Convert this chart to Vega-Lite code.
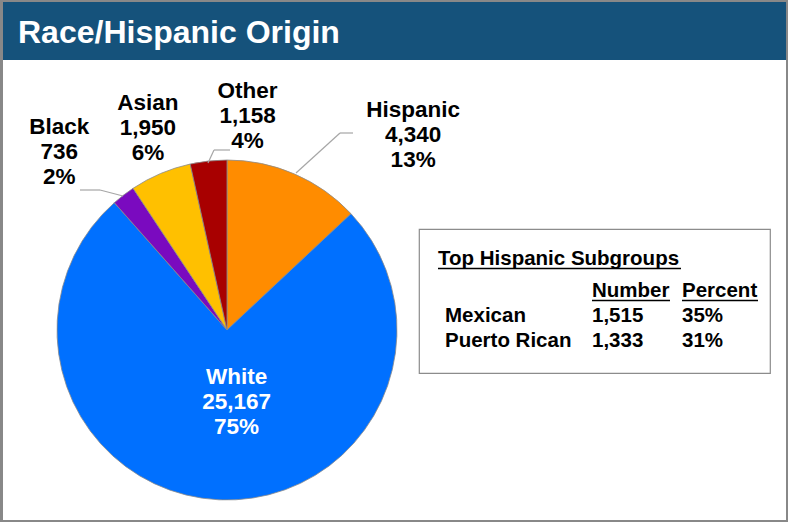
{
  "$schema": "https://vega.github.io/schema/vega-lite/v6.json",
  "padding": 0,
  "background": "white",
  "spacing": 0,
  "bounds": "flush",
  "config": {"view": {"stroke": null}, "font": "Liberation Sans", "concat": {"spacing": 0}},
  "hconcat": [
    {"width": 3, "height": 522, "data": {"values": []}, "mark": {"type": "point", "opacity": 0}, "view": {"fill": "#888888", "stroke": null}},
    {
      "spacing": 0,
      "bounds": "flush",
      "vconcat": [
        {"width": 783, "height": 2, "data": {"values": []}, "mark": {"type": "point", "opacity": 0}, "view": {"fill": "#888888", "stroke": null}},
        {
          "width": 783,
          "height": 58,
          "view": {"fill": "#15527B", "stroke": null},
          "data": {"values": [{"heading": "Race/Hispanic Origin"}]},
          "mark": {"type": "text", "x": 15, "y": 41, "align": "left", "baseline": "alphabetic", "color": "white", "fontSize": 32, "fontWeight": "bold", "font": "Liberation Sans"},
          "encoding": {"text": {"field": "heading", "type": "nominal"}}
        },
        {
          "spacing": 0,
          "bounds": "flush",
          "hconcat": [
            {"width": 32, "height": 460, "data": {"values": []}, "mark": {"type": "point", "opacity": 0}},
            {
              "spacing": 0,
              "bounds": "flush",
              "vconcat": [
                {"width": 384, "height": 80, "data": {"values": []}, "mark": {"type": "point", "opacity": 0}},
                {
                  "width": 384,
                  "height": 380,
                  "data": {"values": [
                    {"group": "Hispanic", "count": 4340, "percent": 13, "rank": 1},
                    {"group": "White", "count": 25167, "percent": 75, "rank": 2},
                    {"group": "Black", "count": 736, "percent": 2, "rank": 3},
                    {"group": "Asian", "count": 1950, "percent": 6, "rank": 4},
                    {"group": "Other", "count": 1158, "percent": 4, "rank": 5}
                  ]},
                  "transform": [
                    {"stack": "count", "groupby": [], "sort": [{"field": "rank", "order": "ascending"}], "as": ["start", "end"]},
                    {"calculate": "(datum.start + datum.end) / 2", "as": "mid"},
                    {"calculate": "datum.group + '\\n' + format(datum.count, ',') + '\\n' + datum.percent + '%'", "as": "label"}
                  ],
                  "resolve": {"scale": {"theta": "shared"}},
                  "layer": [
                    {
                      "mark": {"type": "arc", "outerRadius": 170, "stroke": "#8a8a8a", "strokeWidth": 0.8},
                      "encoding": {
                        "theta": {"field": "start", "type": "quantitative", "stack": null, "scale": {"domain": [0, 33351], "nice": false, "zero": true}},
                        "theta2": {"field": "end"},
                        "color": {"field": "group", "type": "nominal", "legend": null,
                          "scale": {"domain": ["Hispanic", "White", "Black", "Asian", "Other"], "range": ["#FF8C00", "#0070FF", "#7A0ABF", "#FFC000", "#A80000"]}}
                      }
                    },
                    {
                      "data": {"values": [{}]},
                      "mark": {"type": "rule", "color": "#a6a6a6", "strokeWidth": 1.2},
                      "encoding": {"x": {"value": 45}, "y": {"value": 50}, "x2": {"value": 65}, "y2": {"value": 50}}
                    },
                    {
                      "data": {"values": [{}]},
                      "mark": {"type": "rule", "color": "#a6a6a6", "strokeWidth": 1.2},
                      "encoding": {"x": {"value": 65}, "y": {"value": 50}, "x2": {"value": 88}, "y2": {"value": 56}}
                    },
                    {
                      "data": {"values": [{}]},
                      "mark": {"type": "rule", "color": "#a6a6a6", "strokeWidth": 1.2},
                      "encoding": {"x": {"value": 179}, "y": {"value": 10}, "x2": {"value": 195}, "y2": {"value": 10}}
                    },
                    {
                      "data": {"values": [{}]},
                      "mark": {"type": "rule", "color": "#a6a6a6", "strokeWidth": 1.2},
                      "encoding": {"x": {"value": 179}, "y": {"value": 10}, "x2": {"value": 173}, "y2": {"value": 23}}
                    },
                    {
                      "data": {"values": [{}]},
                      "mark": {"type": "rule", "color": "#a6a6a6", "strokeWidth": 1.2},
                      "encoding": {"x": {"value": 305}, "y": {"value": -7}, "x2": {"value": 318}, "y2": {"value": -7}}
                    },
                    {
                      "data": {"values": [{}]},
                      "mark": {"type": "rule", "color": "#a6a6a6", "strokeWidth": 1.2},
                      "encoding": {"x": {"value": 305}, "y": {"value": -7}, "x2": {"value": 261}, "y2": {"value": 33}}
                    },
                    {
                      "transform": [{"filter": "datum.group == 'Hispanic'"}],
                      "mark": {"type": "text", "radius": 269.5, "dx": 79, "dy": 27, "fontSize": 22.5, "fontWeight": "bold", "lineBreak": "\n", "lineHeight": 25, "align": "center", "baseline": "middle", "color": "black"},
                      "encoding": {"theta": {"field": "mid", "type": "quantitative", "stack": null, "scale": {"domain": [0, 33351], "nice": false, "zero": true}}, "text": {"field": "label", "type": "nominal"}}
                    },
                    {
                      "transform": [{"filter": "datum.group == 'White'"}],
                      "mark": {"type": "text", "radius": 73.2, "dx": 13, "dy": -26, "fontSize": 22.5, "fontWeight": "bold", "lineBreak": "\n", "lineHeight": 25, "align": "center", "baseline": "middle", "color": "white"},
                      "encoding": {"theta": {"field": "mid", "type": "quantitative", "stack": null, "scale": {"domain": [0, 33351], "nice": false, "zero": true}}, "text": {"field": "label", "type": "nominal"}}
                    },
                    {
                      "transform": [{"filter": "datum.group == 'Black'"}],
                      "mark": {"type": "text", "radius": 244.4, "dx": -19, "dy": -9, "fontSize": 22.5, "fontWeight": "bold", "lineBreak": "\n", "lineHeight": 25, "align": "center", "baseline": "middle", "color": "black"},
                      "encoding": {"theta": {"field": "mid", "type": "quantitative", "stack": null, "scale": {"domain": [0, 33351], "nice": false, "zero": true}}, "text": {"field": "label", "type": "nominal"}}
                    },
                    {
                      "transform": [{"filter": "datum.group == 'Asian'"}],
                      "mark": {"type": "text", "radius": 217.4, "dx": 6, "dy": -27, "fontSize": 22.5, "fontWeight": "bold", "lineBreak": "\n", "lineHeight": 25, "align": "center", "baseline": "middle", "color": "black"},
                      "encoding": {"theta": {"field": "mid", "type": "quantitative", "stack": null, "scale": {"domain": [0, 33351], "nice": false, "zero": true}}, "text": {"field": "label", "type": "nominal"}}
                    },
                    {
                      "transform": [{"filter": "datum.group == 'Other'"}],
                      "mark": {"type": "text", "radius": 215.5, "dx": 44, "dy": -25, "fontSize": 22.5, "fontWeight": "bold", "lineBreak": "\n", "lineHeight": 25, "align": "center", "baseline": "middle", "color": "black"},
                      "encoding": {"theta": {"field": "mid", "type": "quantitative", "stack": null, "scale": {"domain": [0, 33351], "nice": false, "zero": true}}, "text": {"field": "label", "type": "nominal"}}
                    }
                  ]
                }
              ]
            },
            {"width": 384, "height": 460, "data": {"values": []}, "mark": {"type": "point", "opacity": 0}},
            {
              "spacing": 0,
              "bounds": "flush",
              "vconcat": [
                {"width": 351, "height": 169, "data": {"values": []}, "mark": {"type": "point", "opacity": 0}},
                {
                  "width": 351,
                  "height": 144,
                  "view": {"fill": "white", "stroke": "#8c8c8c", "strokeWidth": 1.2},
                  "data": {"values": [
                    {"subgroup": "Mexican", "number": 1515, "percent": 0.35},
                    {"subgroup": "Puerto Rican", "number": 1333, "percent": 0.31}
                  ]},
                  "layer": [
                    {
                      "mark": {"type": "text", "x": 26, "align": "left", "baseline": "alphabetic", "fontSize": 20.5, "fontWeight": "bold", "color": "black"},
                      "encoding": {
                        "y": {"field": "subgroup", "type": "nominal", "axis": null, "scale": {"type": "point", "domain": ["Mexican", "Puerto Rican"], "range": [93, 118], "padding": 0}},
                        "text": {"field": "subgroup", "type": "nominal"}
                      }
                    },
                    {
                      "mark": {"type": "text", "x": 173, "align": "left", "baseline": "alphabetic", "fontSize": 20.5, "fontWeight": "bold", "color": "black"},
                      "encoding": {
                        "y": {"field": "subgroup", "type": "nominal", "axis": null},
                        "text": {"field": "number", "type": "quantitative", "format": ","}
                      }
                    },
                    {
                      "mark": {"type": "text", "x": 263, "align": "left", "baseline": "alphabetic", "fontSize": 20.5, "fontWeight": "bold", "color": "black"},
                      "encoding": {
                        "y": {"field": "subgroup", "type": "nominal", "axis": null},
                        "text": {"field": "percent", "type": "quantitative", "format": ".0%"}
                      }
                    },
                    {
                      "data": {"values": [{"text": "Top Hispanic Subgroups"}]},
                      "mark": {"type": "text", "x": 19, "y": 36, "align": "left", "baseline": "alphabetic", "fontSize": 20.5, "fontWeight": "bold", "color": "black"},
                      "encoding": {"text": {"field": "text", "type": "nominal"}}
                    },
                    {
                      "data": {"values": [{"text": "Number"}]},
                      "mark": {"type": "text", "x": 173, "y": 68, "align": "left", "baseline": "alphabetic", "fontSize": 20.5, "fontWeight": "bold", "color": "black"},
                      "encoding": {"text": {"field": "text", "type": "nominal"}}
                    },
                    {
                      "data": {"values": [{"text": "Percent"}]},
                      "mark": {"type": "text", "x": 263, "y": 68, "align": "left", "baseline": "alphabetic", "fontSize": 20.5, "fontWeight": "bold", "color": "black"},
                      "encoding": {"text": {"field": "text", "type": "nominal"}}
                    },
                    {
                      "data": {"values": [{}]},
                      "mark": {"type": "rule", "color": "black", "strokeWidth": 1.6},
                      "encoding": {"x": {"value": 19}, "x2": {"value": 262}, "y": {"value": 39.5}, "y2": {"value": 39.5}}
                    },
                    {
                      "data": {"values": [{}]},
                      "mark": {"type": "rule", "color": "black", "strokeWidth": 1.6},
                      "encoding": {"x": {"value": 173}, "x2": {"value": 251}, "y": {"value": 71.5}, "y2": {"value": 71.5}}
                    },
                    {
                      "data": {"values": [{}]},
                      "mark": {"type": "rule", "color": "black", "strokeWidth": 1.6},
                      "encoding": {"x": {"value": 263}, "x2": {"value": 339}, "y": {"value": 71.5}, "y2": {"value": 71.5}}
                    }
                  ]
                }
              ]
            }
          ]
        },
        {"width": 783, "height": 460, "data": {"values": []}, "mark": {"type": "point", "opacity": 0}},
        {"width": 783, "height": 2, "data": {"values": []}, "mark": {"type": "point", "opacity": 0}, "view": {"fill": "#888888", "stroke": null}}
      ]
    },
    {"width": 783, "height": 522, "data": {"values": []}, "mark": {"type": "point", "opacity": 0}},
    {"width": 2, "height": 522, "data": {"values": []}, "mark": {"type": "point", "opacity": 0}, "view": {"fill": "#888888", "stroke": null}}
  ]
}
